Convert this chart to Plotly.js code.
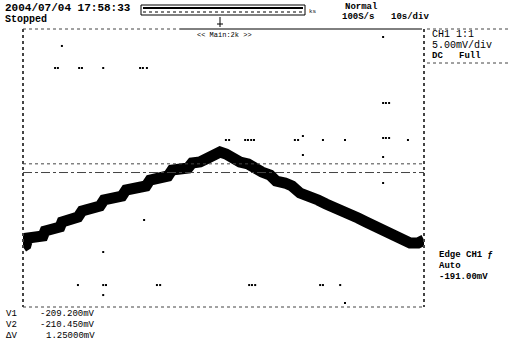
<!DOCTYPE html>
<html>
<head>
<meta charset="utf-8">
<script src="https://cdn.plot.ly/plotly-3.0.1.min.js"></script>
<style>html,body{margin:0;padding:0;background:#fff}#chart{width:510px;height:357px}</style>
</head>
<body>
<div id="chart"></div>
<script>
const timeS = [0, 0.75, 1.25, 2.99, 4.99, 5.49, 7.23, 9.23, 9.73, 11.72, 13.72, 14.71, 16.71, 19.2, 20.2, 22.2, 24.69, 25.69, 27.93, 30.68, 31.67, 34.17, 36.16, 37.16, 39.16, 41.15, 42.15, 44.14, 46.14, 47.63, 49.13, 50.63, 52.12, 54.12, 56.11, 57.61, 59.6, 61.6, 63.1, 65.34, 67.09, 69.08, 71.58, 73.57, 75.57, 77.56, 79.56, 81.06, 83.55, 85.54, 87.54, 89.53, 91.53, 93.03, 94.52, 96.52, 98.52, 100];
const ch1mV = [-221.17, -220.88, -219.87, -219.73, -219.59, -218.87, -218.58, -218.29, -217.57, -217.14, -216.85, -215.99, -215.70, -215.27, -214.40, -214.12, -213.83, -212.97, -212.68, -212.39, -211.53, -211.24, -210.95, -210.09, -209.94, -209.80, -209.08, -208.94, -208.36, -207.79, -207.50, -207.79, -208.50, -208.94, -209.22, -209.94, -210.38, -210.81, -211.67, -211.96, -212.39, -213.40, -213.83, -214.40, -214.98, -215.41, -215.84, -216.56, -217.00, -217.57, -218.15, -218.58, -219.01, -219.87, -220.30, -220.59, -220.59, -220.16];

// leftover graticule dots
const dotT = [9.7, 8.0, 8.7, 14.0, 14.7, 20.0, 29.2, 29.9, 30.9, 50.6, 51.4, 55.4, 56.1, 56.9, 57.6, 67.8, 68.6, 69.8, 74.8, 80.3, 89.8, 90.5, 91.3, 96.0, 89.8, 89.8, 90.5, 91.3, 69.8, 89.8, 89.8, 30.2, 20.0, 20.0, 80.3, 13.7, 20.0, 20.7, 33.4, 34.2, 56.4, 57.1, 57.9, 74.1, 74.8, 79.1];
const dotMV = [-192.24, -195.41, -195.41, -195.41, -195.41, -195.41, -195.41, -195.41, -195.41, -205.77, -205.77, -205.77, -205.77, -205.77, -205.77, -205.77, -205.77, -205.2, -205.77, -205.77, -205.48, -205.48, -205.48, -205.77, -190.95, -200.45, -200.45, -200.45, -207.93, -208.22, -211.96, -217.28, -221.89, -228.08, -229.23, -226.64, -226.64, -226.64, -226.64, -226.64, -226.64, -226.64, -226.64, -226.64, -226.64, -226.64];

const cursorNames = ['V1', 'V2', 'ΔV'];
const cursorValues = [-209.2, -210.45, 1.25];
const headerDate = '2004/07/04 17:58:33';
const runState = 'Stopped';
const acqMode = 'Normal';
const sampleRate = '100S/s';
const timeDiv = '10s/div';
const chLabel = ['CH1 1:1', '5.00mV/div', 'DC   Full'];
const trigLabel = ['Edge CH1 \u0192', 'Auto'];
const trigLevel = -191.0;
const zoomLabel = '<< Main:2k >>';

// ---- layout helpers (pixel -> paper) ----
const W = 510, H = 357;
const px = x => x / W, py = y => 1 - y / H;
const FONT = 'Liberation Mono, DejaVu Sans Mono, monospace';
function txt(x, y, s, size, anchor, bold) {
  return {xref: 'paper', yref: 'paper', x: px(x), y: py(y), text: bold ? '<b>' + s + '</b>' : s,
    showarrow: false, xanchor: anchor || 'left', yanchor: 'middle',
    font: {family: FONT, size: size || 10, color: '#000'}};
}
function pline(x0, y0, x1, y1, dash, color, width) {
  return {type: 'line', xref: 'paper', yref: 'paper', x0: px(x0), y0: py(y0), x1: px(x1), y1: py(y1),
    line: {color: color || '#000', width: width || 1, dash: dash || 'solid'}};
}

const traces = [
  {x: dotT, y: dotMV, type: 'scatter', mode: 'markers', marker: {color: '#000', size: 2, symbol: 'square'}, hoverinfo: 'skip'},
  {x: timeS, y: ch1mV, type: 'scatter', mode: 'lines', line: {color: '#000', width: 11}, hoverinfo: 'skip'}
];

const fmtCursor = (v, i) => (i < 2 ? v.toFixed(3) : v.toFixed(5)) + 'mV';

const annotations = [
  txt(3, 8, headerDate, 11, 'left', true),
  txt(3, 19, runState, 10, 'left', true),
  txt(343, 7, acqMode, 9, 'left', true),
  txt(340, 17, sampleRate, 9, 'left', true),
  txt(389, 17, timeDiv, 9, 'left', true),
  txt(307, 11, 'ks', 6, 'left', false),
  txt(224, 35, zoomLabel, 7, 'center', false),
  txt(430, 34, chLabel[0], 10, 'left', false),
  txt(430, 45, chLabel[1], 10, 'left', false),
  txt(430, 56, chLabel[2], 9, 'left', true),
  txt(437, 255, trigLabel[0], 9, 'left', true),
  txt(437, 266, trigLabel[1], 9, 'left', true),
  txt(437, 277, trigLevel.toFixed(2) + 'mV', 9, 'left', true)
];
cursorNames.forEach((n, i) => {
  annotations.push(txt(4, 314 + i * 11, n, 9, 'left', false));
  annotations.push(txt(97, 314 + i * 11, fmtCursor(cursorValues[i], i), 9, 'right', false));
});

const shapes = [
  // frame
  pline(23, 29, 23, 307, 'dot', '#444', 2),
  pline(424, 29, 424, 307, 'dot', '#444', 2),
  pline(23, 307, 424, 307, 'dot', '#444', 1),
  pline(23, 29, 180, 29, 'dot', '#444', 1),
  pline(180, 29, 422, 29, 'solid', '#000', 1),
  // right panel box
  pline(427, 29, 510, 29, 'dot', '#444', 1),
  pline(427, 63, 510, 63, 'dot', '#444', 1),
  // memory bar
  {type: 'rect', xref: 'paper', yref: 'paper', x0: px(141), y0: py(5), x1: px(305), y1: py(15), line: {color: '#000', width: 1}, fillcolor: '#fff'},
  pline(143, 8, 303, 8, 'solid', '#000', 2),
  pline(143, 12, 303, 12, 'dot', '#000', 1),
  pline(220, 17, 220, 27, 'solid', '#000', 1),
  pline(217, 24, 223, 24, 'solid', '#000', 1),
  // cursors (data coordinates)
  {type: 'line', xref: 'x', yref: 'y', x0: 0, x1: 100, y0: cursorValues[0], y1: cursorValues[0], line: {color: '#444', width: 1, dash: 'dot'}},
  {type: 'line', xref: 'x', yref: 'y', x0: 0, x1: 100, y0: cursorValues[1], y1: cursorValues[1], line: {color: '#444', width: 1, dash: 'dashdot'}}
];

const layout = {
  width: W, height: H, margin: {l: 0, r: 0, t: 0, b: 0},
  paper_bgcolor: '#fff', plot_bgcolor: 'rgba(0,0,0,0)', showlegend: false,
  xaxis: {domain: [px(23), px(424)], range: [0, 100], showgrid: false, zeroline: false, showticklabels: false, showline: false, ticks: ''},
  yaxis: {domain: [py(307), py(29)], range: [-229.8, -189.8], showgrid: false, zeroline: false, showticklabels: false, showline: false, ticks: ''},
  annotations: annotations, shapes: shapes
};

Plotly.newPlot('chart', traces, layout, {staticPlot: true, displayModeBar: false});
</script>
</body>
</html>
